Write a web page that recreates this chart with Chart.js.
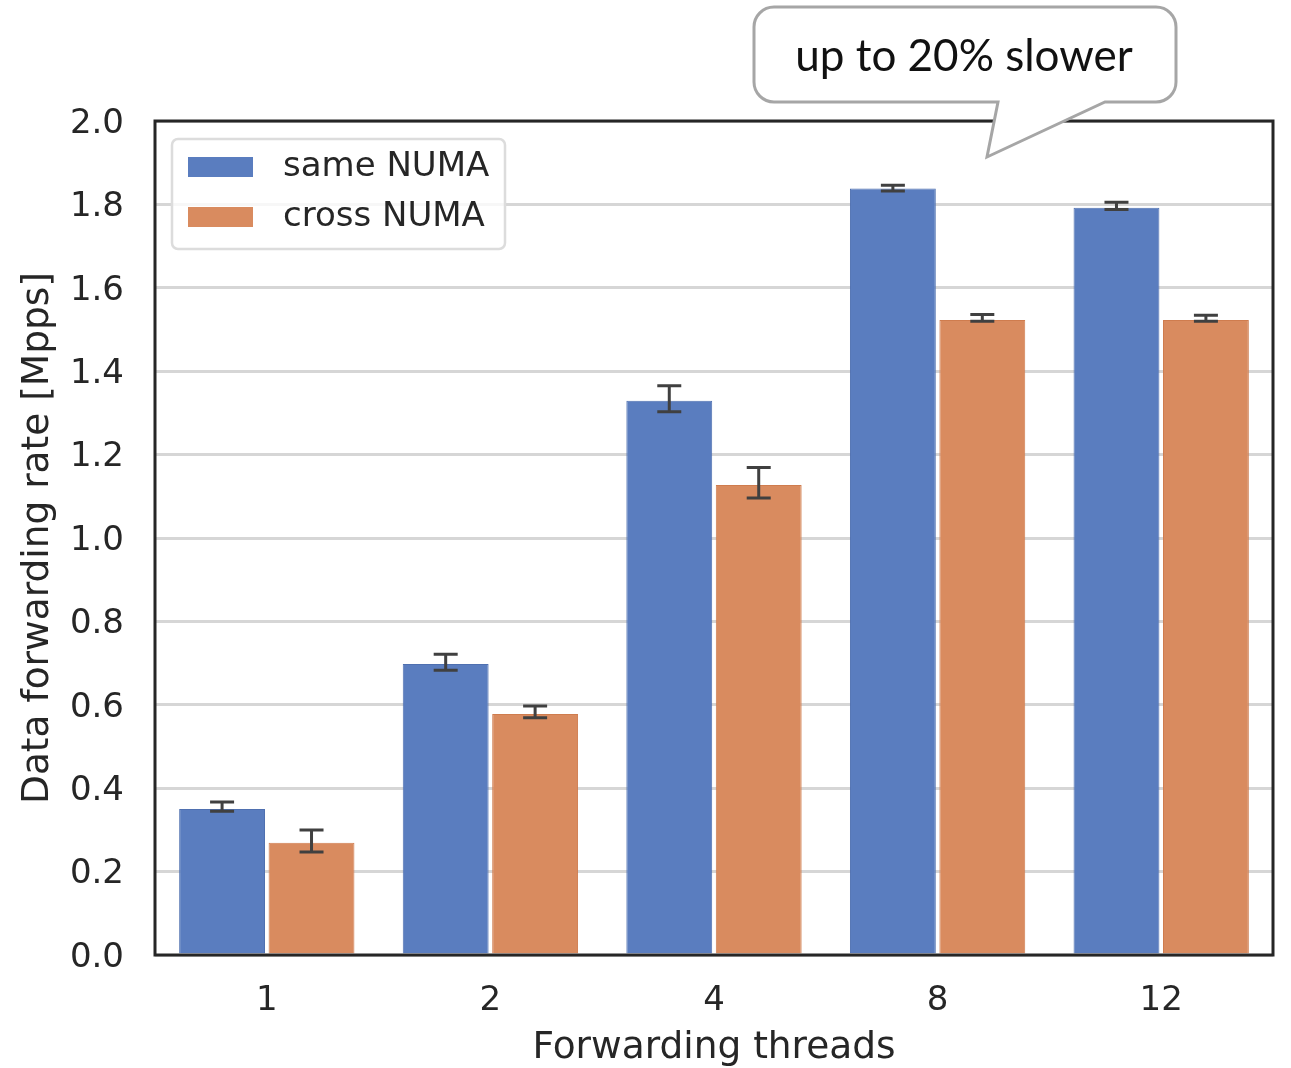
<!DOCTYPE html>
<html>
<head>
<meta charset="utf-8">
<script src="https://cdn.jsdelivr.net/npm/chart.js@4/dist/chart.umd.min.js"></script>
<style>
  html, body { margin: 0; padding: 0; background: #fff; }
  #wrap { width: 1291px; height: 1068px; }
</style>
</head>
<body>
<div id="wrap"><canvas id="barChart"></canvas></div>
<script>
Chart.defaults.font.family = 'DejaVu Sans';
Chart.defaults.color = '#262626';

const categories = ['1', '2', '4', '8', '12'];
const sameNuma = [0.350, 0.698, 1.329, 1.838, 1.792];
const sameLow = [0.345, 0.683, 1.303, 1.832, 1.788];
const sameHigh = [0.367, 0.721, 1.365, 1.846, 1.805];
const crossNuma = [0.269, 0.578, 1.127, 1.523, 1.523];
const crossLow = [0.247, 0.569, 1.096, 1.520, 1.520];
const crossHigh = [0.300, 0.597, 1.169, 1.536, 1.534];
const yTicks = [0, 0.2, 0.4, 0.6, 0.8, 1.0, 1.2, 1.4, 1.6, 1.8, 2.0];
const seriesNames = ['same NUMA', 'cross NUMA'];
const calloutText = 'up to 20% slower';

const blue = '#5a7dbf';
const orange = '#d98b5f';

// error bars, drawn on top of the bars
const errorBars = {
  id: 'errorBars',
  afterDatasetsDraw(chart) {
    const ctx = chart.ctx;
    const y = chart.scales.y;
    const ranges = [[sameLow, sameHigh], [crossLow, crossHigh]];
    ctx.save();
    ctx.strokeStyle = '#404040';
    ctx.lineWidth = 3;
    chart.data.datasets.forEach((ds, i) => {
      chart.getDatasetMeta(i).data.forEach((bar, j) => {
        const lo = y.getPixelForValue(ranges[i][0][j]);
        const hi = y.getPixelForValue(ranges[i][1][j]);
        ctx.beginPath();
        ctx.moveTo(bar.x, lo); ctx.lineTo(bar.x, hi);
        ctx.moveTo(bar.x - 12, lo); ctx.lineTo(bar.x + 12, lo);
        ctx.moveTo(bar.x - 12, hi); ctx.lineTo(bar.x + 12, hi);
        ctx.stroke();
      });
    });
    ctx.restore();
  }
};

function roundRect(ctx, x, y, w, h, r) {
  ctx.beginPath();
  ctx.moveTo(x + r, y);
  ctx.arcTo(x + w, y, x + w, y + h, r);
  ctx.arcTo(x + w, y + h, x, y + h, r);
  ctx.arcTo(x, y + h, x, y, r);
  ctx.arcTo(x, y, x + w, y, r);
  ctx.closePath();
}

// frame, legend and the callout
const decorations = {
  id: 'decorations',
  afterDraw(chart) {
    const ctx = chart.ctx;
    const a = chart.chartArea;
    ctx.save();
    ctx.strokeStyle = '#262626';
    ctx.lineWidth = 3;
    ctx.strokeRect(a.left, a.top, a.right - a.left, a.bottom - a.top);

    // legend
    roundRect(ctx, 172, 139, 333, 110, 6);
    ctx.fillStyle = 'rgba(255,255,255,0.8)';
    ctx.fill();
    ctx.strokeStyle = '#dcdcdc';
    ctx.lineWidth = 2.5;
    ctx.stroke();
    [blue, orange].forEach((c, i) => {
      const top = 157 + i * 50;
      ctx.fillStyle = c;
      ctx.fillRect(188, top, 65, 20);
      ctx.fillStyle = '#262626';
      ctx.font = '34px "DejaVu Sans"';
      ctx.textBaseline = 'middle';
      ctx.fillText(seriesNames[i], 283, top + 10);
    });

    // callout bubble
    const bx = 754, by = 7, bw = 422, bh = 95, r = 20;
    ctx.beginPath();
    ctx.moveTo(bx + r, by);
    ctx.arcTo(bx + bw, by, bx + bw, by + bh, r);
    ctx.arcTo(bx + bw, by + bh, bx, by + bh, r);
    ctx.lineTo(1105, by + bh);
    ctx.lineTo(987, 157);
    ctx.lineTo(998, by + bh);
    ctx.arcTo(bx, by + bh, bx, by, r);
    ctx.arcTo(bx, by, bx + bw, by, r);
    ctx.closePath();
    ctx.fillStyle = '#fff';
    ctx.fill();
    ctx.strokeStyle = '#a6a6a6';
    ctx.lineWidth = 3;
    ctx.stroke();
    ctx.fillStyle = '#111';
    ctx.font = '42px Lato';
    const w = ctx.measureText(calloutText).width;
    ctx.font = Math.round(42 * 334 / w) + 'px Lato';
    ctx.textAlign = 'center';
    ctx.textBaseline = 'middle';
    ctx.fillText(calloutText, 964, 57);
    ctx.restore();
  }
};

new Chart(document.getElementById('barChart'), {
  type: 'bar',
  data: {
    labels: categories,
    datasets: [
      { label: seriesNames[0], data: sameNuma, backgroundColor: blue, borderColor: '#4f70b0', borderWidth: 1 },
      { label: seriesNames[1], data: crossNuma, backgroundColor: orange, borderColor: '#cf7c4e', borderWidth: 1 }
    ]
  },
  options: {
    responsive: true,
    maintainAspectRatio: false,
    animation: false,
    categoryPercentage: 0.8,
    barPercentage: 0.96,
    layout: { padding: { left: 16, right: 18, top: 121, bottom: 0 } },
    plugins: { legend: { display: false }, title: { display: false }, tooltip: { enabled: false } },
    scales: {
      x: {
        grid: { display: false },
        border: { display: false },
        ticks: { font: { size: 34 }, padding: 18 },
        title: { display: true, text: 'Forwarding threads', font: { size: 37.5 }, padding: { top: 4, bottom: -3 } },
        afterFit(scale) { scale.height = 113; }
      },
      y: {
        min: 0,
        max: 2.0,
        afterBuildTicks(scale) { scale.ticks = yTicks.map(v => ({ value: v })); },
        grid: { color: '#d6d6d6', lineWidth: 3, drawTicks: false },
        border: { display: false },
        ticks: { font: { size: 34 }, padding: 31, labelOffset: 3, callback: v => v.toFixed(1) },
        title: { display: true, text: 'Data forwarding rate [Mpps]', font: { size: 37.5 }, padding: 0 },
        afterFit(scale) { scale.width = 139; }
      }
    }
  },
  plugins: [errorBars, decorations]
});
</script>
</body>
</html>
